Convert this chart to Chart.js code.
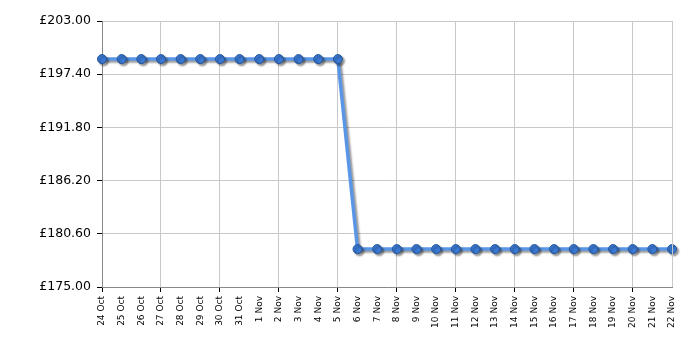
<!DOCTYPE html>
<html>
<head>
<meta charset="utf-8">
<script src="https://cdn.jsdelivr.net/npm/chart.js@4/dist/chart.umd.min.js"></script>
<style>html,body{margin:0;padding:0;background:#fff;}canvas{display:block;}</style>
</head>
<body>
<canvas id="c" width="700" height="350"></canvas>
<script>
const categories = ["24 Oct","25 Oct","26 Oct","27 Oct","28 Oct","29 Oct","30 Oct","31 Oct","1 Nov","2 Nov","3 Nov","4 Nov","5 Nov","6 Nov","7 Nov","8 Nov","9 Nov","10 Nov","11 Nov","12 Nov","13 Nov","14 Nov","15 Nov","16 Nov","17 Nov","18 Nov","19 Nov","20 Nov","21 Nov","22 Nov"];
const prices = [198.99,198.99,198.99,198.99,198.99,198.99,198.99,198.99,198.99,198.99,198.99,198.99,198.99,178.99,178.99,178.99,178.99,178.99,178.99,178.99,178.99,178.99,178.99,178.99,178.99,178.99,178.99,178.99,178.99,178.99];
const yTicks = [175.00,180.60,186.20,191.80,197.40,203.00];

const shadowPlugin = {
  id: 'shadow',
  beforeDatasetsDraw(chart) {
    const ctx = chart.ctx;
    ctx.save();
    ctx.shadowColor = 'rgba(0,0,0,0.4)';
    ctx.shadowOffsetX = 2;
    ctx.shadowOffsetY = 2;
    ctx.shadowBlur = 2;
  },
  afterDatasetsDraw(chart) { chart.ctx.restore(); }
};

new Chart(document.getElementById('c'), {
  type: 'line',
  data: {
    labels: categories,
    datasets: [{
      data: prices,
      borderColor: '#5a96e6',
      borderWidth: 3.5,
      pointRadius: 4.5,
      pointBackgroundColor: '#3a78d2',
      pointBorderColor: '#24559c',
      pointBorderWidth: 1,
      tension: 0,
      clip: false
    }]
  },
  options: {
    responsive: false,
    animation: false,
    layout: { padding: { top: 21, right: 28, left: 0, bottom: 0 } },
    plugins: { legend: { display: false }, tooltip: { enabled: false } },
    scales: {
      x: {
        offset: false,
        afterFit: s => { s.height = 63; },
        border: { color: '#888', width: 1 },
        grid: {
          color: c => (c.index % 3 === 0 ? '#c8c8c8' : 'transparent'),
          tickColor: c => (c.index % 3 === 0 ? '#000' : 'transparent'),
          tickLength: 5,
          drawOnChartArea: true
        },
        ticks: {
          autoSkip: false,
          minRotation: 90,
          maxRotation: 90,
          padding: 4,
          color: '#000',
          font: { family: 'DejaVu Sans', size: 9 }
        }
      },
      y: {
        min: 175,
        max: 203,
        afterFit: s => { s.width = 102; },
        afterBuildTicks: s => { s.ticks = yTicks.map(v => ({ value: v })); },
        border: { color: '#888', width: 1 },
        grid: { color: '#c8c8c8', tickColor: '#000', tickLength: 5 },
        ticks: {
          padding: 6,
          color: '#000',
          font: { family: 'DejaVu Sans', size: 12.5 },
          callback: v => '£' + Number(v).toFixed(2)
        }
      }
    }
  },
  plugins: [shadowPlugin, {
    id: 'rightBorder',
    afterDraw(chart) {
      const a = chart.chartArea, ctx = chart.ctx;
      ctx.save();
      ctx.strokeStyle = '#c8c8c8';
      ctx.lineWidth = 1;
      ctx.beginPath();
      ctx.moveTo(Math.round(a.right) + 0.5, a.top);
      ctx.lineTo(Math.round(a.right) + 0.5, a.bottom);
      ctx.stroke();
      ctx.restore();
    }
  }]
});
</script>
</body>
</html>
